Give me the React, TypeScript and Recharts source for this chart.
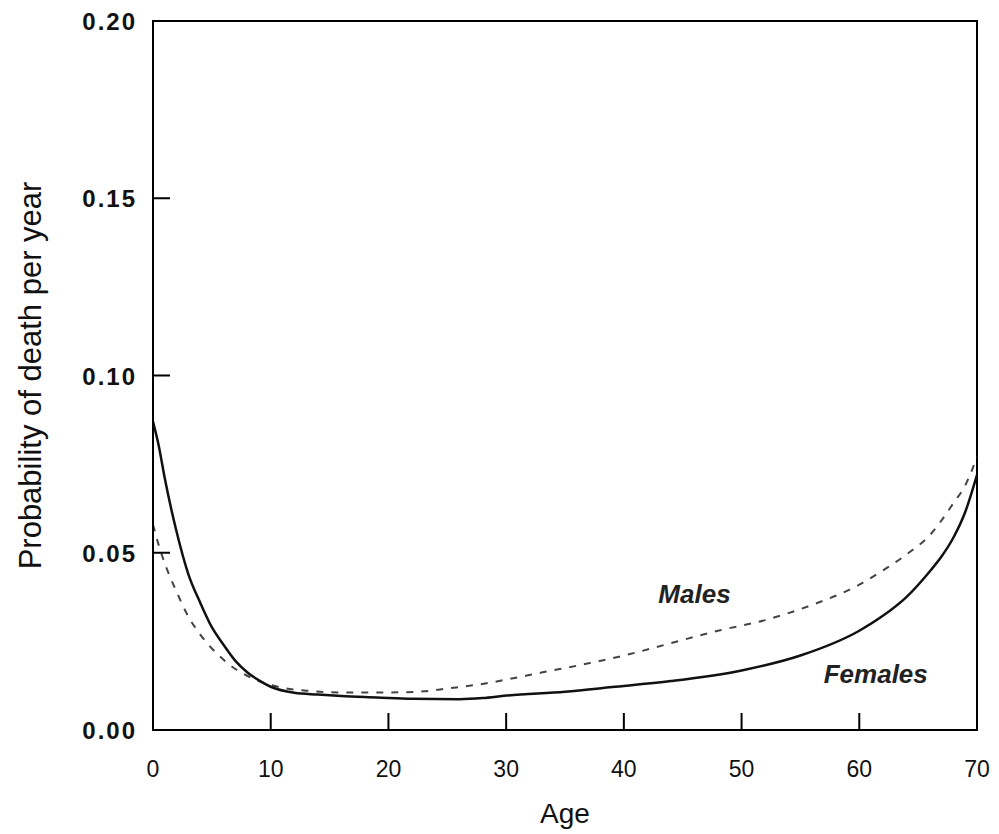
import React from "react";
import { LineChart, Line, XAxis, YAxis, ReferenceArea, ReferenceDot } from "recharts";

const femaleAges = [0, 0.5, 1, 2, 3, 4, 5, 6, 7, 8, 9, 10, 12, 14, 16, 19, 22, 26, 28, 30, 35, 39, 44, 50, 55, 60, 62, 64, 66, 67, 68, 69, 70];
const femaleValues = [0.087, 0.08, 0.071, 0.056, 0.044, 0.036, 0.029, 0.024, 0.0195, 0.0163, 0.014, 0.0122, 0.0105, 0.01, 0.0096, 0.0092, 0.0088, 0.0087, 0.009, 0.0097, 0.0108, 0.0121, 0.0138, 0.0168, 0.021, 0.028, 0.0322, 0.0375, 0.0448, 0.049, 0.0543, 0.0615, 0.072];

const maleAges = [0, 0.5, 1, 2, 3, 4, 5, 6, 7, 8, 9, 10, 11, 13, 16, 20, 23, 25, 28, 30, 33, 37, 40, 44, 48, 52, 56, 60, 62, 64, 66, 68, 69, 70];
const maleValues = [0.058, 0.052, 0.047, 0.039, 0.032, 0.027, 0.023, 0.0198, 0.0172, 0.0153, 0.0138, 0.0127, 0.0119, 0.0111, 0.0106, 0.0106, 0.0109, 0.0117, 0.013, 0.0142, 0.0162, 0.0188, 0.021, 0.0245, 0.028, 0.031, 0.0353, 0.041, 0.045, 0.0495, 0.055, 0.064, 0.069, 0.077];

const xTicks = [0, 10, 20, 30, 40, 50, 60, 70];
const yTicks = [0, 0.05, 0.1, 0.15, 0.2];

const femaleData = femaleAges.map((age, i) => ({ age, value: femaleValues[i] }));
const maleData = maleAges.map((age, i) => ({ age, value: maleValues[i] }));

const FONT = "'Liberation Sans', Arial, sans-serif";

const XTick = (props: any) => {
  const { x, y, payload } = props;
  return (
    <g>
      <line x1={x} y1={y} x2={x} y2={y - 17} stroke="#000" strokeWidth={2} />
      <text x={x} y={y + 47} textAnchor="middle" fontFamily={FONT} fontSize={23} fill="#111">
        {payload.value}
      </text>
    </g>
  );
};

const YTick = (props: any) => {
  const { x, y, payload } = props;
  return (
    <g>
      <line x1={x} y1={y} x2={x + 17} y2={y} stroke="#000" strokeWidth={2} />
      <text x={x - 16} y={y + 9} textAnchor="end" fontFamily={FONT} fontSize={24} fontWeight="bold" letterSpacing={2} fill="#111">
        {Number(payload.value).toFixed(2)}
      </text>
    </g>
  );
};

const labelShape = (text: string) => (props: any) => (
  <text x={props.cx} y={props.cy} textAnchor="middle" fontFamily={FONT} fontSize={26} fontStyle="italic" fontWeight="bold" fill="#222">
    {text}
  </text>
);

export default function App() {
  return (
    <div style={{ position: "absolute", left: 0, top: 0, background: "#fff" }}>
      <LineChart width={999} height={834} margin={{ top: 21, right: 22, bottom: 0, left: 0 }}>
        <XAxis
          type="number"
          dataKey="age"
          domain={[0, 70]}
          ticks={xTicks}
          height={104}
          tickSize={0}
          tickMargin={0}
          tickLine={false}
          axisLine={{ stroke: "#000", strokeWidth: 2 }}
          tick={XTick}
          allowDataOverflow
          label={{ value: "Age", position: "insideBottom", offset: 11, fontFamily: FONT, fontSize: 28, fill: "#111" }}
        />
        <YAxis
          type="number"
          dataKey="value"
          domain={[0, 0.2]}
          ticks={yTicks}
          width={153}
          tickSize={0}
          tickMargin={0}
          tickLine={false}
          axisLine={{ stroke: "#000", strokeWidth: 2 }}
          tick={YTick}
          allowDataOverflow
          label={{ value: "Probability of death per year", angle: -90, position: "insideLeft", offset: 30, fontFamily: FONT, fontSize: 31, fill: "#111", style: { textAnchor: "middle" } }}
        />
        <ReferenceArea x1={0} x2={70} y1={0} y2={0.2} fill="none" stroke="#000" strokeWidth={2} ifOverflow="visible" />
        <Line
          data={maleData}
          dataKey="value"
          type="monotone"
          stroke="#444"
          strokeWidth={2}
          strokeDasharray="7 8"
          dot={false}
          isAnimationActive={false}
        />
        <Line
          data={femaleData}
          dataKey="value"
          type="monotone"
          stroke="#111"
          strokeWidth={2.5}
          dot={false}
          isAnimationActive={false}
        />
        <ReferenceDot x={46} y={0.0358} r={0} shape={labelShape("Males")} ifOverflow="visible" />
        <ReferenceDot x={61.4} y={0.0133} r={0} shape={labelShape("Females")} ifOverflow="visible" />
      </LineChart>
    </div>
  );
}
